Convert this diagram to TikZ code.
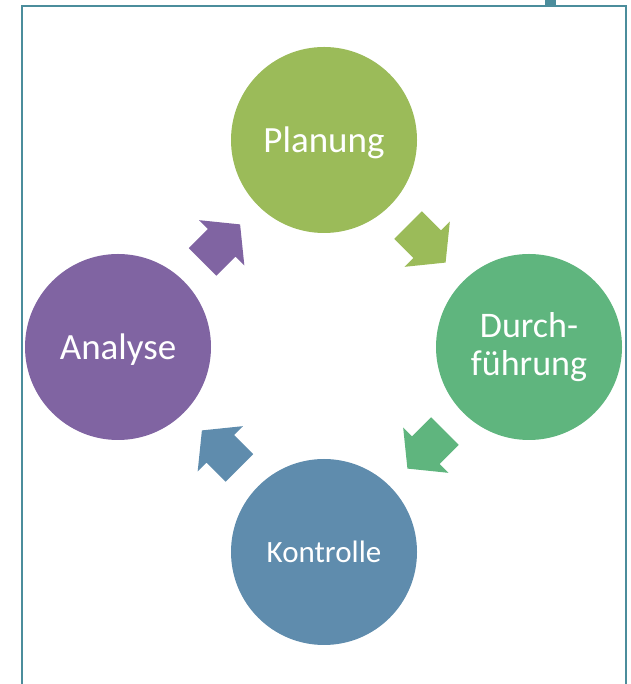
\documentclass[tikz,border=0pt]{standalone}
\usepackage{fontspec}
\setmainfont{Carlito}
\usepackage{tikz}
\usetikzlibrary{calc}
\definecolor{GruenPlan}{RGB}{155,187,89}
\definecolor{GruenDurch}{RGB}{95,181,126}
\definecolor{BlauKontr}{RGB}{95,140,173}
\definecolor{LilaAna}{RGB}{128,100,162}
\definecolor{RahmenTeal}{RGB}{75,141,156}

\tikzset{
  phase/.style={circle,minimum size=186pt,inner sep=0pt,text=white,align=center,
    text depth=0pt},
  zyklpfeil/.pic={
    \path[pic actions] (-26,-19.5) -- (1,-19.5) -- (1,-32) -- (27,0)
      -- (1,32) -- (1,19.5) -- (-26,19.5) -- cycle;
  }
}

\begin{document}
\begin{tikzpicture}[x=1pt,y=1pt]
  \useasboundingbox (0,0) rectangle (630,684);
  % Rahmen
  \draw[RahmenTeal,line width=2pt] (21.5,0) -- (21.5,677.5) -- (626,677.5) -- (626,0);
  \fill[RahmenTeal] (545,676.5) rectangle (555.5,684);
  % Phasen
  \node[phase,fill=GruenPlan,font=\fontsize{37}{39}\selectfont] (plan) at (324,544) {Planung};
  \node[phase,fill=GruenDurch,font=\fontsize{36}{38}\selectfont,text depth=] (durch) at (529,337) {Durch-\\führung};
  \node[phase,fill=BlauKontr,font=\fontsize{31}{33}\selectfont] (kontr) at (324,132) {Kontrolle};
  \node[phase,fill=LilaAna,font=\fontsize{37}{39}\selectfont] (ana) at (118,337) {Analyse};
  % Pfeile
  \pic[fill=GruenPlan,rotate=-45] (pd) at ($(plan)!0.5!(durch)$) {zyklpfeil};
  \pic[fill=GruenDurch,rotate=-135] (dk) at ($(durch)!0.5!(kontr)$) {zyklpfeil};
  \pic[fill=BlauKontr,rotate=135] (ka) at ($(kontr)!0.5!(ana)$) {zyklpfeil};
  \pic[fill=LilaAna,rotate=45] (ap) at ($(ana)!0.5!(plan)$) {zyklpfeil};
\end{tikzpicture}
\end{document}
